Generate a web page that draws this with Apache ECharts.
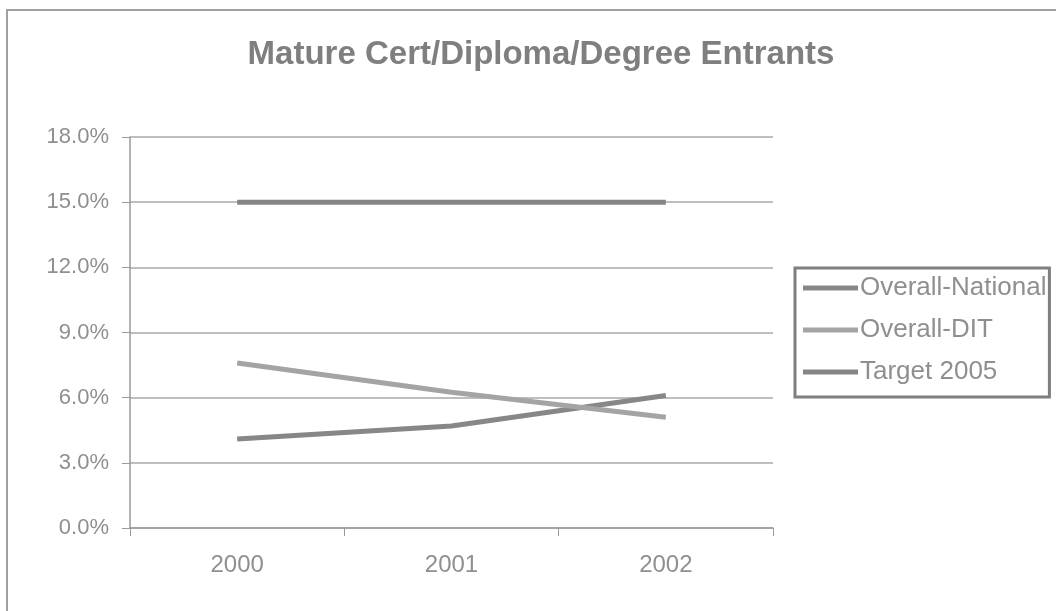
<!DOCTYPE html>
<html>
<head>
<meta charset="utf-8">
<script src="https://cdn.jsdelivr.net/npm/echarts@6/dist/echarts.min.js"></script>
<style>
html,body{margin:0;padding:0;background:#fff;}
#chart{width:1056px;height:611px;}
</style>
</head>
<body>
<div id="chart"></div>
<script>
const categories = ['2000', '2001', '2002'];
const overallNational = [4.1, 4.7, 6.1];
const overallDIT = [7.6, 6.25, 5.1];
const target2005 = [15.0, 15.0, 15.0];
const seriesNames = ['Overall-National', 'Overall-DIT', 'Target 2005'];
const seriesColors = ['#878787', '#a4a4a4', '#858585'];

const chart = echarts.init(document.getElementById('chart'));
const font = 'Liberation Sans, Arial, sans-serif';
const mk = (name, data, color) => ({
  name: name, type: 'line', data: data, symbol: 'none', smooth: false,
  lineStyle: { color: color, width: 5, cap: 'butt' },
  itemStyle: { color: color },
  emphasis: { disabled: true }
});
chart.setOption({
  animation: false,
  backgroundColor: '#ffffff',
  title: {
    text: 'Mature Cert/Diploma/Degree Entrants',
    left: 536, top: 33, textAlign: 'center',
    textStyle: { fontFamily: font, fontSize: 33, fontWeight: 'bold', color: '#7f7f7f' }
  },
  graphic: [
    { type: 'rect', shape: { x: 7, y: 10, width: 1060, height: 620 },
      style: { fill: 'none', stroke: '#a0a0a0', lineWidth: 2 }, silent: true }
  ],
  legend: {
    orient: 'vertical', left: 795, top: 268,
    padding: [7, 3, 12, 8],
    itemGap: 16, itemWidth: 55, itemHeight: 5,
    icon: 'rect',
    borderColor: '#7f7f7f', borderWidth: 3, borderRadius: 0,
    textStyle: { fontFamily: font, fontSize: 26, color: '#8f8f8f', padding: [0, 0, 0, -3] },
    data: seriesNames
  },
  grid: { left: 130, right: 283, top: 137, bottom: 83, containLabel: false },
  xAxis: {
    type: 'category', data: categories, boundaryGap: true,
    axisLine: { lineStyle: { color: '#9a9a9a', width: 1.5 } },
    axisTick: { show: true, length: 8, lineStyle: { color: '#9a9a9a' } },
    axisLabel: { fontFamily: font, fontSize: 24, color: '#8f8f8f', margin: 25 },
    splitLine: { show: false }
  },
  yAxis: {
    type: 'value', min: 0, max: 18, interval: 3,
    axisLine: { show: true, lineStyle: { color: '#9a9a9a', width: 1.5 } },
    axisTick: { show: true, length: 8, lineStyle: { color: '#9a9a9a' } },
    axisLabel: { fontFamily: font, fontSize: 22, color: '#8f8f8f', margin: 21,
      formatter: v => v.toFixed(1) + '%' },
    splitLine: { show: true, lineStyle: { color: '#a8a8a8', width: 1.5 } }
  },
  series: [
    mk(seriesNames[0], overallNational, seriesColors[0]),
    mk(seriesNames[1], overallDIT, seriesColors[1]),
    mk(seriesNames[2], target2005, seriesColors[2])
  ]
});
</script>
</body>
</html>
